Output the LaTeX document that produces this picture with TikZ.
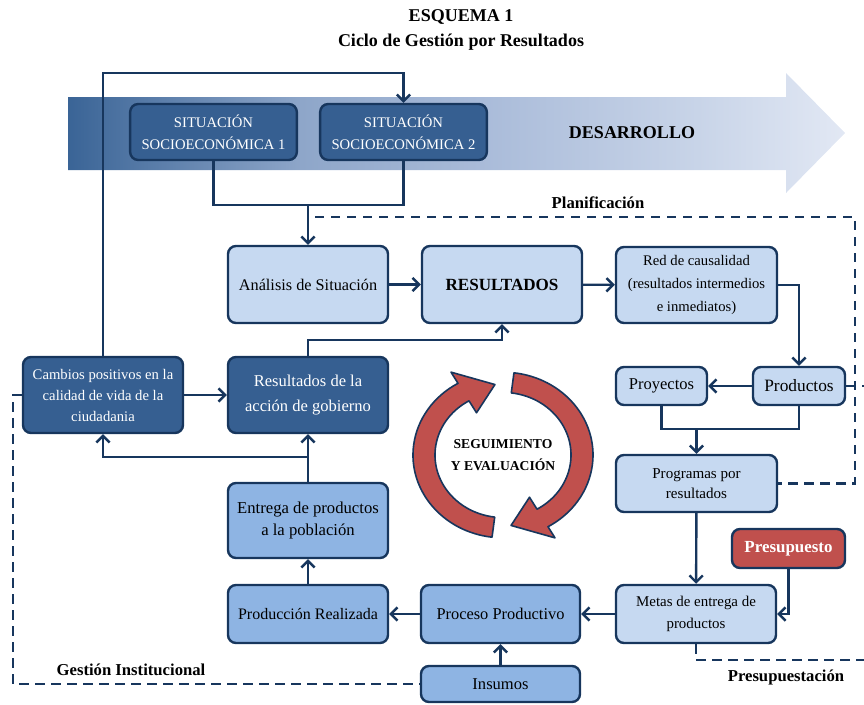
\documentclass[tikz,border=0pt]{standalone}
\usepackage{fontspec}
\setmainfont{Liberation Serif}
\usetikzlibrary{arrows.meta, positioning}

\definecolor{navy}{HTML}{17365D}
\definecolor{darkfill}{HTML}{365F91}
\definecolor{lightfill}{HTML}{C6D9F1}
\definecolor{midfill}{HTML}{8EB4E3}
\definecolor{redfill}{HTML}{C0504D}
\definecolor{arrowdark}{HTML}{3A6496}
\definecolor{arrowmidA}{HTML}{8EA6C9}
\definecolor{arrowmidB}{HTML}{A9BBD9}
\definecolor{arrowmidC}{HTML}{C8D4E8}
\definecolor{arrowlight}{HTML}{E2E8F4}

\pgfdeclarehorizontalshading{devshade}{100bp}{color(0bp)=(arrowdark); color(25bp)=(arrowdark);
  color(40bp)=(arrowmidA); color(51.5bp)=(arrowmidB); color(65.5bp)=(arrowmidC);
  color(75bp)=(arrowlight); color(100bp)=(arrowlight)}

\tikzset{
  box/.style = {draw=navy, line width=1.8pt, rounded corners=6pt, align=center, inner sep=2pt},
  sitbox/.style = {box, fill=darkfill, text=white, minimum width=125pt, minimum height=42pt,
                   font=\fontsize{11}{16.5}\selectfont},
  darkbox/.style = {box, fill=darkfill, text=white, minimum width=120pt, minimum height=57pt},
  lightbox/.style = {box, fill=lightfill, text=black},
  midbox/.style = {box, fill=midfill, text=black, minimum width=120pt},
  redbox/.style = {box, fill=redfill, text=white, font=\bfseries\fontsize{12.7}{14}\selectfont},
  link/.style = {draw=navy, line width=1.8pt},
  zone/.style = {draw=navy, line width=1.6pt, dash pattern=on 7pt off 5pt},
  zonetext/.style = {font=\bfseries\fontsize{12.5}{14}\selectfont},
  cycarrow/.style = {fill=redfill, draw=navy, line width=1.2pt, line join=round}
}

\begin{document}
\begin{tikzpicture}[x=0.75pt, y=-0.75pt, > = {Straight Barb[length=5pt, width=10pt]}]
	\useasboundingbox (0,0) rectangle (864,704);
	
	\node [font=\bfseries\fontsize{13.5}{15}\selectfont] (titulo) at (461,17) {ESQUEMA 1};
	\node [font=\bfseries\fontsize{13.5}{15}\selectfont] (subtitulo) at (461,42) {Ciclo de Gestión por Resultados};
	
	\shade [shading=devshade]
		(68,97) -- (786,97) -- (786,73) -- (845,133) -- (786,193) -- (786,170) -- (68,170) -- cycle;
	\node [font=\bfseries\fontsize{13.5}{16}\selectfont] (desarrollo) at (632,133) {DESARROLLO};
	
	\node [sitbox] (sit1) at (213.5,132) {SITUACIÓN\\SOCIOECONÓMICA 1};
	\node [sitbox] (sit2) at (403.5,132) {SITUACIÓN\\SOCIOECONÓMICA 2};
	
	\node [lightbox, minimum width=120pt, minimum height=57.75pt, font=\fontsize{12.2}{14}\selectfont]
		(analisis) at (308,284.5) {Análisis de Situación};
	\node [lightbox, minimum width=120pt, minimum height=57.75pt, font=\bfseries\fontsize{12.8}{14}\selectfont]
		(resultados) at (502,284.5) {RESULTADOS};
	\node [lightbox, minimum width=120.75pt, minimum height=57pt, font=\fontsize{11}{17}\selectfont]
		(red) at (696.5,285) {Red de causalidad\\(resultados intermedios\\e inmediatos)};
	\node [lightbox, minimum width=68.25pt, minimum height=28.5pt, font=\fontsize{12.4}{14}\selectfont]
		(proyectos) at (661.5,386) {Proyectos};
	\node [lightbox, minimum width=69pt, minimum height=28.5pt, font=\fontsize{13}{14}\selectfont]
		(productos) at (799,386) {Productos};
	\node [lightbox, minimum width=120.75pt, minimum height=42.75pt, font=\fontsize{11.3}{15}\selectfont]
		(programas) at (696.5,483.5) {Programas por\\resultados};
	\node [lightbox, minimum width=120pt, minimum height=43.5pt, font=\fontsize{11.2}{16}\selectfont]
		(metas) at (696,614) {Metas de entrega de\\productos};
	\node [redbox, minimum width=84.75pt, minimum height=29.25pt] (presupuesto) at (788.5,548.5) {Presupuesto};
	
	\node [darkbox, font=\fontsize{11}{15.75}\selectfont] (cambios) at (103,395)
		{Cambios positivos en la\\calidad de vida de la\\ciudadania};
	\node [darkbox, font=\fontsize{12.4}{18.5}\selectfont] (accion) at (308,395)
		{Resultados de la\\acción de gobierno};
	
	\node [midbox, minimum height=56.25pt, font=\fontsize{12.5}{16.5}\selectfont] (entrega) at (308,520.5)
		{Entrega de productos\\a la población};
	\node [midbox, minimum height=43.5pt, font=\fontsize{12}{14}\selectfont] (produccion) at (308,614)
		{Producción Realizada};
	\node [midbox, minimum width=119.25pt, minimum height=43.5pt, font=\fontsize{12.3}{14}\selectfont]
		(proceso) at (500.5,614) {Proceso Productivo};
	\node [midbox, minimum width=119.25pt, minimum height=27pt, font=\fontsize{12.4}{14}\selectfont]
		(insumos) at (500.5,684) {Insumos};
	
	% ciclo de seguimiento
	\begin{scope}[shift={(503,455)}, yscale=-0.92]
		\draw [cycarrow] (83:90) arc (83:-60:90) -- (-60:104) -- (-84:77) -- (-60:53) -- (-60:68)
			arc (-60:83:68) -- cycle;
	\end{scope}
	\begin{scope}[shift={(503,455)}, yscale=-0.92, rotate=180]
		\draw [cycarrow] (83:90) arc (83:-60:90) -- (-60:104) -- (-84:77) -- (-60:53) -- (-60:68)
			arc (-60:83:68) -- cycle;
	\end{scope}
	\node [align=center, font=\bfseries\fontsize{10.2}{17}\selectfont] (seguimiento) at (503,455)
		{SEGUIMIENTO\\Y EVALUACIÓN};
	
	% conectores
	\coordinate (topbend) at (403.5,73);
	\coordinate (sitjoin) at (308,205);
	\coordinate (pjoin) at (696.5,429);
	\coordinate (ebranch) at (308,457);
	\coordinate (abend) at (308,340);
	
	\draw [link, ->] (cambios.north) |- (topbend) -- (sit2.north);
	\draw [link] (sit1.south) |- (sitjoin) -| (sit2.south);
	\draw [link, ->] (sitjoin) -- (analisis.north);
	\draw [link, ->] (analisis) -- (resultados);
	\draw [link, ->] (resultados) -- (red);
	\draw [link, ->] (red.east) -| (productos.north);
	\draw [link, ->] (productos) -- (proyectos);
	\draw [link] (proyectos.south) |- (pjoin) -| (productos.south);
	\draw [link, ->] (pjoin) -- (programas.north);
	\draw [link, ->] (programas) -- (metas);
	\draw [link, ->] (presupuesto.south) |- (metas.east);
	\draw [link, ->] (metas) -- (proceso);
	\draw [link, ->] (proceso) -- (produccion);
	\draw [link, ->] (insumos) -- (proceso);
	\draw [link, ->] (produccion) -- (entrega);
	\draw [link, ->] (entrega) -- (accion);
	\draw [link, ->] (ebranch) -| (cambios.south);
	\draw [link, ->] (cambios) -- (accion);
	\draw [link, ->] (accion.north) -- (abend) -| (resultados.south);
	
	% zonas
	\draw [zone] (315,217) -- (855,217) -- (855,483.5) -- (programas.east);
	\draw [zone] (productos.east) -- (870,386);
	\draw [zone] (metas.south) -- (696,660) -- (870,660);
	\draw [zone] (cambios.west) -| (13,684) -- (insumos.west);
	
	\node [zonetext] (planificacion) at (598,203) {Planificación};
	\node [zonetext] (gestion) at (131,670) {Gestión Institucional};
	\node [zonetext] (presupuestacion) at (786,677) {Presupuestación};
\end{tikzpicture}
\end{document}
